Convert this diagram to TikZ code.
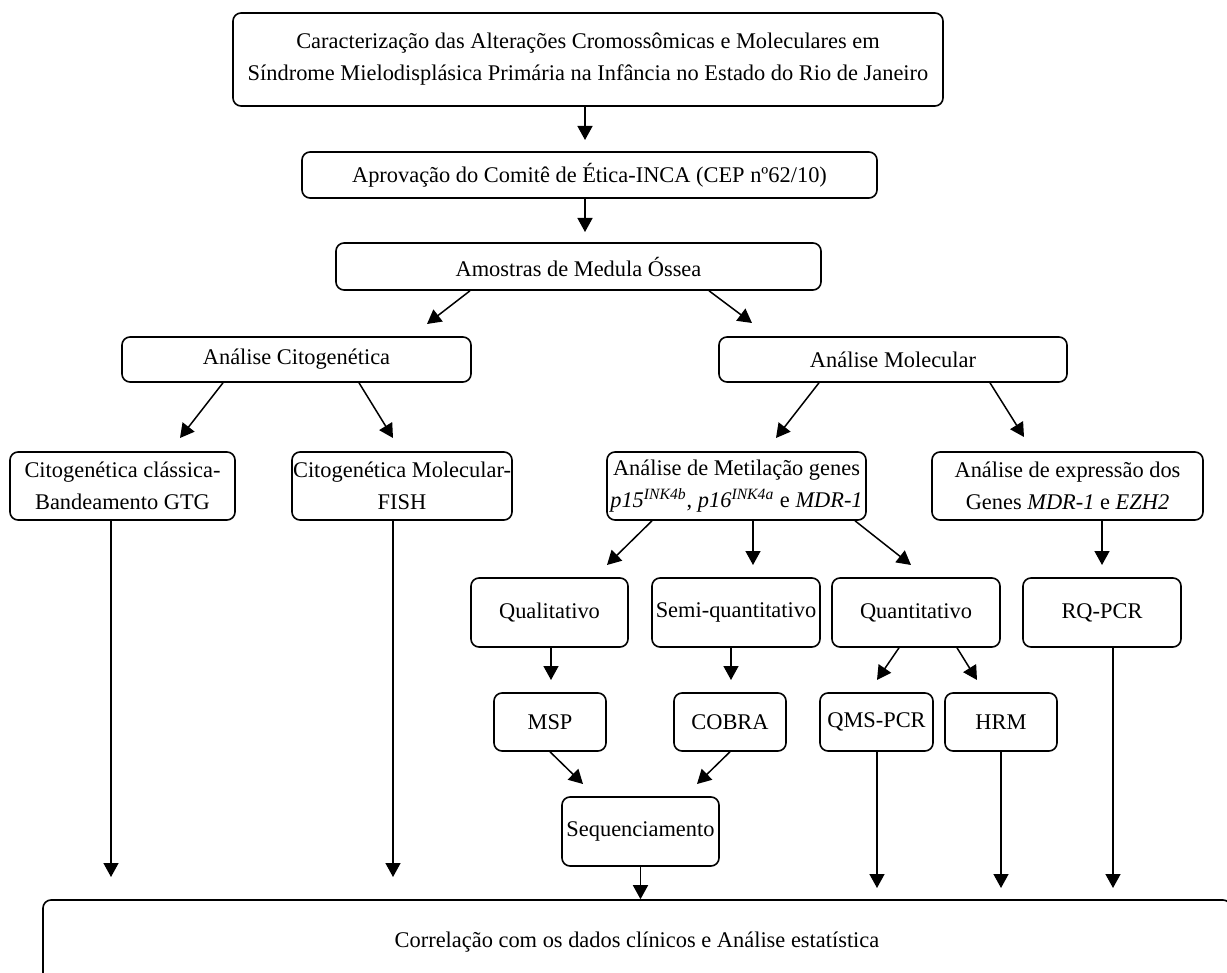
\documentclass[tikz,border=0pt]{standalone}
\usepackage{fontspec}
\setmainfont{Liberation Serif}
\usetikzlibrary{arrows.meta}
\newcommand{\mkbox}[6]{\node[box, minimum width={(#4-#2)*0.5pt}, minimum height={(#5-#3)*0.5pt}] (#1) at ({(#2+#4)/2},{(#3+#5)/2}) {#6};}
\begin{document}
\begin{tikzpicture}[x=0.5pt,y=-0.5pt,
  box/.style={draw, rounded corners=4pt, line width=0.8pt, align=center, inner sep=0pt,
    font=\fontsize{11.2}{16}\selectfont},
  arr/.style={-{Triangle[length=7pt,width=7.5pt]}, line width=0.75pt}]
\useasboundingbox (0,0) rectangle (1227,973);
\fill[white] (0,0) rectangle (1227,973);

\mkbox{top}{233}{13}{943}{106}{Caracterização das Alterações Cromossômicas e Moleculares em\\Síndrome Mielodisplásica Primária na Infância no Estado do Rio de Janeiro}
\mkbox{apr}{302}{152}{877}{198}{Aprovação do Comitê de Ética-INCA (CEP nº62/10)}
\mkbox{am}{336}{243}{821}{290}{Amostras de Medula Óssea}
\mkbox{cit}{122}{337}{471}{382}{Análise Citogenética}
\mkbox{mol}{719}{337}{1067}{382}{Análise Molecular}
\mkbox{cc}{10}{452}{235}{520}{Citogenética clássica-\\Bandeamento GTG}
\mkbox{cm}{292}{452}{512}{520}{Citogenética Molecular-\\FISH}
\mkbox{met}{607}{452}{866}{520}{Análise de Metilação genes\\\textit{p15}\textsuperscript{\textit{INK4b}}, \textit{p16}\textsuperscript{\textit{INK4a}} e \textit{MDR-1}}
\mkbox{exp}{932}{452}{1203}{520}{Análise de expressão dos\\Genes \textit{MDR-1} e \textit{EZH2}}
\mkbox{qual}{471}{578}{628}{647}{Qualitativo}
\mkbox{semi}{652}{578}{820}{647}{Semi-quantitativo}
\mkbox{quant}{832}{578}{1000}{647}{Quantitativo}
\mkbox{rq}{1023}{578}{1181}{647}{RQ-PCR}
\mkbox{msp}{494}{693}{606}{751}{MSP}
\mkbox{cob}{674}{693}{786}{751}{COBRA}
\mkbox{qms}{820}{693}{933}{751}{QMS-PCR}
\mkbox{hrm}{945}{693}{1057}{751}{HRM}
\mkbox{seq}{562}{797}{719}{866}{Sequenciamento}
\mkbox{bot}{43}{900}{1231}{984}{Correlação com os dados clínicos e Análise estatística}

\coordinate (t1) at (585,140);
\coordinate (t2) at (585,232);
\coordinate (t3) at (427,324);
\coordinate (t4) at (752,323);
\coordinate (t5) at (180,438);
\coordinate (t6) at (393,438);
\coordinate (t7) at (776,438);
\coordinate (t8) at (1024,437);
\coordinate (t9) at (607,565);
\coordinate (t10) at (753,565);
\coordinate (t11) at (911,565);
\coordinate (t12) at (1102,565);
\coordinate (t13) at (551,680);
\coordinate (t14) at (731,680);
\coordinate (t15) at (877,680);
\coordinate (t16) at (977,680);
\coordinate (t17) at (583,784);
\coordinate (t18) at (697,784);
\coordinate (t19) at (111,877);
\coordinate (t20) at (393,877);
\coordinate (t21) at (877,888);
\coordinate (t22) at (1001,888);
\coordinate (t23) at (1113,888);

\draw[arr] (585,0 |- top.south) -- (t1);
\draw[arr] (585,0 |- apr.south) -- (t2);
\draw[arr] (470,0 |- am.south) -- (t3);
\draw[arr] (709,0 |- am.south) -- (t4);
\draw[arr] (223,0 |- cit.south) -- (t5);
\draw[arr] (359,0 |- cit.south) -- (t6);
\draw[arr] (819,0 |- mol.south) -- (t7);
\draw[arr] (990,0 |- mol.south) -- (t8);
\draw[arr] (652,0 |- met.south) -- (t9);
\draw[arr] (753,0 |- met.south) -- (t10);
\draw[arr] (855,0 |- met.south) -- (t11);
\draw[arr] (1102,0 |- exp.south) -- (t12);
\draw[arr] (551,0 |- qual.south) -- (t13);
\draw[arr] (731,0 |- semi.south) -- (t14);
\draw[arr] (899,0 |- quant.south) -- (t15);
\draw[arr] (957,0 |- quant.south) -- (t16);
\draw[arr] (550,0 |- msp.south) -- (t17);
\draw[arr] (730,0 |- cob.south) -- (t18);
\draw[arr] (seq.south) -- (seq.south |- bot.north);
\draw[arr] (111,0 |- cc.south) -- (t19);
\draw[arr] (393,0 |- cm.south) -- (t20);
\draw[arr] (877,0 |- qms.south) -- (t21);
\draw[arr] (1001,0 |- hrm.south) -- (t22);
\draw[arr] (1113,0 |- rq.south) -- (t23);
\end{tikzpicture}
\end{document}
